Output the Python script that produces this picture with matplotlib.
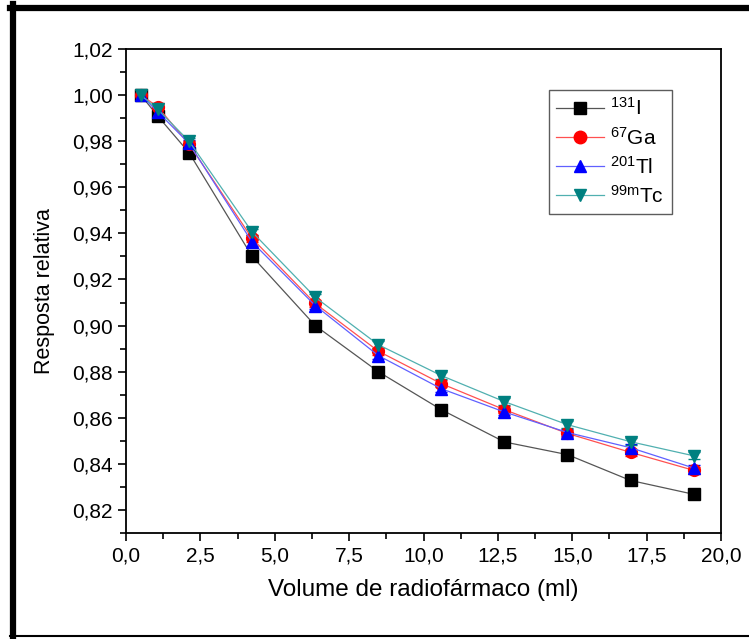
import matplotlib
matplotlib.use("Agg")
import matplotlib.pyplot as plt
from matplotlib.lines import Line2D
from matplotlib.ticker import MultipleLocator, FuncFormatter

volume = [0.5, 1.06, 2.12, 4.24, 6.36, 8.48, 10.6, 12.72, 14.84, 16.96, 19.08]
i131 = [1.000, 0.991, 0.975, 0.930, 0.900, 0.880, 0.8635, 0.8495, 0.844, 0.8328, 0.8268]
ga67 = [1.000, 0.995, 0.9787, 0.9378, 0.9096, 0.8889, 0.8748, 0.8635, 0.8532, 0.8450, 0.8372]
tl201 = [1.000, 0.9928, 0.979, 0.9362, 0.9087, 0.8870, 0.8726, 0.8625, 0.8536, 0.8470, 0.8382]
tc99m = [1.000, 0.9939, 0.980, 0.9406, 0.9123, 0.8917, 0.8783, 0.8670, 0.8570, 0.8496, 0.8435]
err = 0.0015

labels = [r"$^{131}$I", r"$^{67}$Ga", r"$^{201}$Tl", r"$^{99m}$Tc"]
series = [i131, ga67, tl201, tc99m]
markers = ["s", "o", "^", "v"]
mcolors = ["#000000", "#FF0000", "#0000FF", "#008080"]
lcolors = ["#555555", "#FF5050", "#6060FF", "#50B0B0"]

plt.rcParams['font.family'] = ['Liberation Sans', 'DejaVu Sans']
plt.rcParams['mathtext.fontset'] = 'custom'
plt.rcParams['mathtext.rm'] = 'Liberation Sans'
plt.rcParams['mathtext.it'] = 'Liberation Sans'

fig = plt.figure(figsize=(7.49, 6.39), dpi=100)
ax = fig.add_axes([126/749, 1 - 533/639, (721-126)/749, (533-49)/639])

for y, lab, m, mc, lc in zip(series, labels, markers, mcolors, lcolors):
    ax.errorbar(volume, y, yerr=err, color=lc, lw=0.9, marker=m, ms=8.5,
                mfc=mc, mec=mc, ecolor=mc, elinewidth=0.8, capsize=4,
                label=lab)

ax.set_xlim(0, 20)
ax.set_ylim(0.81, 1.02)
ax.xaxis.set_major_locator(MultipleLocator(2.5))
ax.xaxis.set_minor_locator(MultipleLocator(1.25))
ax.yaxis.set_major_locator(MultipleLocator(0.02))
ax.yaxis.set_minor_locator(MultipleLocator(0.01))
ax.xaxis.set_major_formatter(FuncFormatter(lambda v, p: f"{v:.1f}".replace('.', ',')))
ax.yaxis.set_major_formatter(FuncFormatter(lambda v, p: f"{v:.2f}".replace('.', ',')))
ax.tick_params(which='both', direction='out', top=False, right=False, width=1.2, colors='black')
ax.tick_params(which='major', length=6, labelsize=15)
ax.tick_params(which='minor', length=4)
for s in ax.spines.values():
    s.set_linewidth(1.3)

ax.set_xlabel("Volume de radiofármaco (ml)", fontsize=17.5, labelpad=10)
ax.set_ylabel("Resposta relativa", fontsize=15.5, labelpad=12)

handles = [Line2D([], [], color=lc, lw=0.9, marker=m, ms=9, mfc=mc, mec=mc)
           for m, mc, lc in zip(markers, mcolors, lcolors)]
leg = ax.legend(handles, labels, loc='upper left', bbox_to_anchor=((549-126)/595, 1 - (90-49)/484),
                fontsize=15, frameon=True, fancybox=False, edgecolor='#333333',
                handlelength=2.3, handletextpad=0.3, labelspacing=0.35, borderpad=0.35,
                borderaxespad=0)
leg.get_frame().set_linewidth(1.0)

# outer frame
fig.add_artist(Line2D([12.5/749, 12.5/749], [1 - 4/639, 1 - 637/639], transform=fig.transFigure, color='black', lw=4.5))
fig.add_artist(Line2D([10/749, 1.0], [1 - 7.5/639, 1 - 7.5/639], transform=fig.transFigure, color='black', lw=4.5))
fig.add_artist(Line2D([10/749, 1.0], [1 - 636/639, 1 - 636/639], transform=fig.transFigure, color='black', lw=1.5))

fig.savefig("out.png", dpi=100)
